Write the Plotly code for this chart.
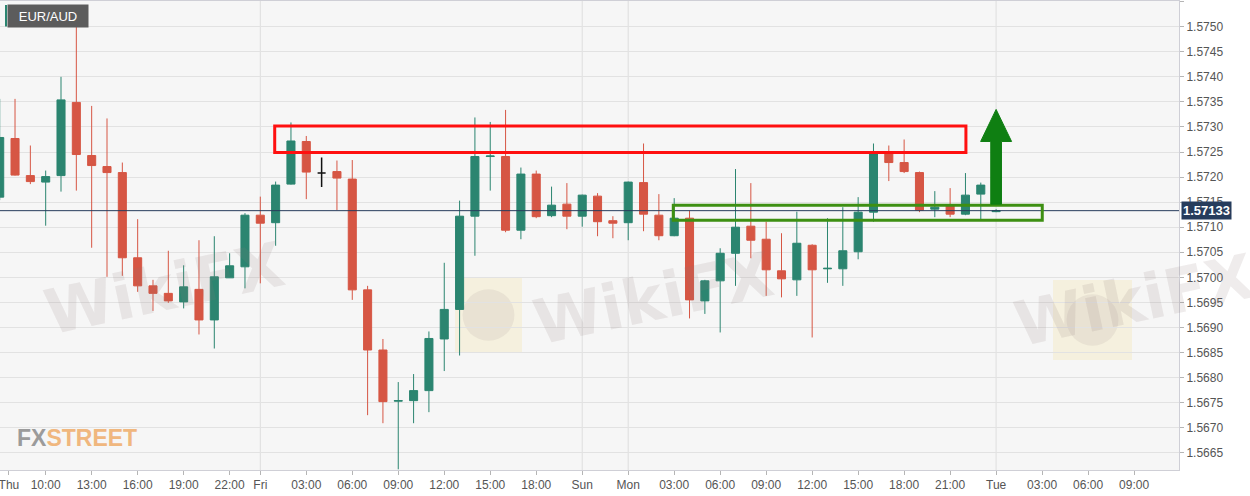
import plotly.graph_objects as go

# hourly EUR/AUD candles, Thu 07:00 -> Tue 00:00 (weekend removed)
opens = [1.57160, 1.57277, 1.57203, 1.57190, 1.57203, 1.57349, 1.57243, 1.57221, 1.57209, 1.57039,
         1.56983, 1.56968, 1.56951, 1.56976, 1.56915, 1.56999, 1.57021, 1.57124, 1.57109, 1.57186,
         1.57271, 1.57208, 1.57211, 1.57196, 1.56975, 1.56855, 1.56753, 1.56754, 1.56774, 1.56877,
         1.56936, 1.57122, 1.57241, 1.57241, 1.57094, 1.57206, 1.57123, 1.57146, 1.57122, 1.57162,
         1.57113, 1.57109, 1.57189, 1.57124, 1.57083, 1.57118, 1.56953, 1.56993, 1.57048, 1.57102,
         1.57076, 1.57013, 1.56995, 1.57064, 1.57017, 1.57017, 1.57051, 1.57130, 1.57249, 1.57229,
         1.57209, 1.57136, 1.57144, 1.57126, 1.57166, 1.57131]
highs = [1.57356, 1.57356, 1.57263, 1.57213, 1.57400, 1.57533, 1.57342, 1.57317, 1.57229, 1.57116,
         1.56995, 1.57053, 1.57024, 1.57074, 1.57082, 1.57048, 1.57128, 1.57161, 1.57191, 1.57309,
         1.57282, 1.57239, 1.57233, 1.57234, 1.56983, 1.56877, 1.56791, 1.56807, 1.56892, 1.57029,
         1.57153, 1.57319, 1.57310, 1.57334, 1.57219, 1.57213, 1.57181, 1.57188, 1.57165, 1.57168,
         1.57122, 1.57191, 1.57267, 1.57166, 1.57158, 1.57133, 1.56995, 1.57058, 1.57216, 1.57188,
         1.57111, 1.57088, 1.57131, 1.57066, 1.57118, 1.57140, 1.57160, 1.57267, 1.57263, 1.57275,
         1.57211, 1.57172, 1.57178, 1.57208, 1.57189, 1.57136]
lows = [1.57154, 1.57203, 1.57186, 1.57103, 1.57171, 1.57173, 1.57059, 1.57001, 1.57003, 1.56971,
        1.56933, 1.56949, 1.56938, 1.56886, 1.56858, 1.56999, 1.56978, 1.56988, 1.57063, 1.57185,
        1.57156, 1.57180, 1.57134, 1.56955, 1.56725, 1.56709, 1.56617, 1.56709, 1.56731, 1.56813,
        1.56844, 1.57043, 1.57173, 1.57090, 1.57076, 1.57118, 1.57120, 1.57096, 1.57101, 1.57082,
        1.57078, 1.57074, 1.57092, 1.57074, 1.57082, 1.56918, 1.56927, 1.56890, 1.56983, 1.57038,
        1.56963, 1.56960, 1.56963, 1.56880, 1.56989, 1.56983, 1.57036, 1.57111, 1.57192, 1.57208,
        1.57130, 1.57120, 1.57120, 1.57124, 1.57113, 1.57130]
closes = [1.57279, 1.57204, 1.57191, 1.57201, 1.57354, 1.57245, 1.57223, 1.57209, 1.57039, 1.56983,
          1.56968, 1.56953, 1.56981, 1.56915, 1.57001, 1.57023, 1.57124, 1.57108, 1.57184, 1.57272,
          1.57210, 1.57208, 1.57198, 1.56975, 1.56855, 1.56752, 1.56754, 1.56774, 1.56878, 1.56936,
          1.57122, 1.57241, 1.57242, 1.57094, 1.57206, 1.57121, 1.57144, 1.57122, 1.57164, 1.57111,
          1.57108, 1.57190, 1.57126, 1.57083, 1.57118, 1.56955, 1.56993, 1.57048, 1.57100, 1.57074,
          1.57015, 1.56997, 1.57068, 1.57015, 1.57018, 1.57053, 1.57130, 1.57247, 1.57229, 1.57211,
          1.57134, 1.57140, 1.57126, 1.57164, 1.57184, 1.57133]
cursor_bar = 21  # doji drawn black under the cursor cross

last_price = 1.57133

tick_pos = [0.6, 3, 6, 9, 12, 15, 17, 20, 23, 26, 29, 32, 35, 38, 41, 44, 47, 50, 53, 56, 59, 62, 65, 68, 71, 74]
tick_text = ["Thu", "10:00", "13:00", "16:00", "19:00", "22:00", "Fri", "03:00", "06:00", "09:00",
             "12:00", "15:00", "18:00", "Sun", "Mon", "03:00", "06:00", "09:00", "12:00", "15:00",
             "18:00", "21:00", "Tue", "03:00", "06:00", "09:00"]
day_lines = [17, 38, 41, 65]

# drawings
resist_box = [17.94, 63.03, 1.57249, 1.57302]
support_box = [43.94, 68.01, 1.57114, 1.57144]
arrow_x = [64.65, 65.35, 65.35, 66.01, 65.0, 63.99, 64.65]
arrow_y = [1.57146, 1.57146, 1.57271, 1.57271, 1.57335, 1.57271, 1.57271]

GREEN = "#2b8570"
RED = "#d65644"

x = list(range(len(opens)))


def pick(vals, keep):
    return [v if (i == cursor_bar) == keep else None for i, v in enumerate(vals)]


fig = go.Figure()
fig.add_trace(go.Candlestick(
    x=x, open=pick(opens, False), high=pick(highs, False),
    low=pick(lows, False), close=pick(closes, False),
    increasing=dict(line=dict(color=GREEN, width=1), fillcolor=GREEN),
    decreasing=dict(line=dict(color=RED, width=1), fillcolor=RED),
    hoverinfo="skip", showlegend=False))
fig.add_trace(go.Candlestick(
    x=x, open=pick(opens, True), high=pick(highs, True),
    low=pick(lows, True), close=pick(closes, True),
    increasing=dict(line=dict(color="#111111", width=1.5), fillcolor="#111111"),
    decreasing=dict(line=dict(color="#111111", width=1.5), fillcolor="#111111"),
    hoverinfo="skip", showlegend=False))

shapes = []
for d in day_lines:
    shapes.append(dict(type="line", xref="x", yref="paper", x0=d, x1=d, y0=0, y1=1,
                       line=dict(color="#dedede", width=1), layer="below"))
shapes.append(dict(type="line", xref="paper", yref="y", x0=0, x1=1, y0=last_price, y1=last_price,
                   line=dict(color="#263c5c", width=1)))
shapes.append(dict(type="rect", x0=resist_box[0], x1=resist_box[1], y0=resist_box[2], y1=resist_box[3],
                   line=dict(color="#ff1010", width=3)))
shapes.append(dict(type="rect", x0=support_box[0], x1=support_box[1], y0=support_box[2], y1=support_box[3],
                   line=dict(color="#3d8f12", width=3)))
path = "M " + " L ".join(f"{a},{b}" for a, b in zip(arrow_x, arrow_y)) + " Z"
shapes.append(dict(type="path", path=path, fillcolor="#0f7f12", line=dict(color="#0f7f12", width=1)))

# watermark logos (pale squares)
for x0, x1, y0, y1 in [(455 / 1179, 522 / 1179, (470 - 352) / 469, (470 - 278) / 469),
                       (1053 / 1179, 1132 / 1179, (470 - 360) / 469, (470 - 280) / 469)]:
    shapes.append(dict(type="rect", xref="paper", yref="paper", x0=x0, x1=x1, y0=y0, y1=y1,
                       fillcolor="rgba(245,222,150,0.25)", line=dict(width=0), layer="below"))
    cx, cy = (x0 + x1) / 2, (y0 + y1) / 2
    shapes.append(dict(type="circle", xref="paper", yref="paper",
                       x0=cx - 0.022, x1=cx + 0.022, y0=cy - 0.055, y1=cy + 0.055,
                       fillcolor="rgba(150,130,130,0.12)", line=dict(width=0), layer="below"))
# EUR/AUD tag stripe
shapes.append(dict(type="rect", xref="paper", yref="paper", x0=5 / 1179, x1=7 / 1179,
                   y0=(470 - 26.5) / 469, y1=(470 - 5) / 469, fillcolor="#2b8570", line=dict(width=0)))

annotations = []
for ax, ay in [(36, 288), (653, 298), (1262, 300)]:
    annotations.append(dict(xref="paper", yref="paper", x=ax / 1179, y=(470 - ay) / 469,
                            text="<b>WikiFX</b>", showarrow=False, textangle=-12,
                            font=dict(family="DejaVu Sans", size=62, color="rgba(140,120,120,0.14)")))
annotations.append(dict(xref="paper", yref="paper", x=15 / 1179, y=(470 - 437.5) / 469,
                        xanchor="left", yanchor="middle", showarrow=False,
                        text="<b><span style='color:#9b9b9b'>FX</span>"
                             "<span style='color:#f0b77e'>STREET</span></b>",
                        font=dict(family="Liberation Sans, Arial", size=23)))
annotations.append(dict(xref="paper", yref="paper", x=7 / 1179, y=(470 - 15.8) / 469,
                        xanchor="left", yanchor="middle", showarrow=False, text="EUR/AUD",
                        bgcolor="#5c5c5c", width=74, height=16, borderpad=3,
                        font=dict(family="Liberation Sans, Arial", size=13, color="white")))
annotations.append(dict(xref="paper", yref="y", x=1, y=last_price, xshift=2,
                        xanchor="left", yanchor="middle", showarrow=False,
                        text="<b>" + f"{last_price:.5f}" + "</b>", bgcolor="#263c5c", borderpad=1,
                        font=dict(family="Liberation Sans, Arial", size=13, color="white")))

fig.update_layout(
    width=1250, height=496,
    margin=dict(l=0, r=71, t=1, b=26, autoexpand=False),
    paper_bgcolor="white", plot_bgcolor="#f6f6f6",
    boxgap=0.25,
    shapes=shapes, annotations=annotations,
    font=dict(family="Liberation Sans, Arial", size=12, color="#555555"),
    xaxis=dict(range=[0.02, 76.93], rangeslider=dict(visible=False), showgrid=False,
               automargin=False, ticklabeloverflow="allow",
               tickmode="array", tickvals=tick_pos, ticktext=tick_text,
               ticks="outside", ticklen=4, tickcolor="#b5b5b5",
               showline=True, linecolor="#cfcfd6", mirror=True, zeroline=False),
    yaxis=dict(range=[1.566156, 1.575513], side="right", dtick=0.0005, tickformat=".4f",
               automargin=False,
               showgrid=True, gridcolor="#e2e2e2", gridwidth=1,
               ticks="outside", ticklen=4, tickcolor="#b5b5b5",
               showline=True, linecolor="#cfcfd6", mirror=True, zeroline=False),
)

fig.write_html("out.html", config={"displayModeBar": False},
               post_script="document.body.style.margin='0';")
